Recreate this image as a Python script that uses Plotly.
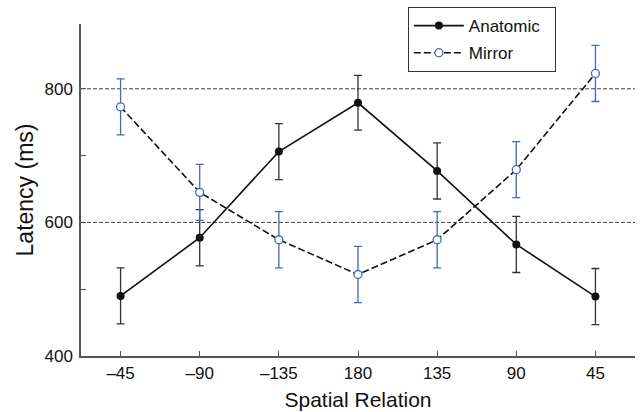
import plotly.graph_objects as go

categories = ["–45", "–90", "–135", "180", "135", "90", "45"]
anatomic = [490, 577, 706, 779, 677, 567, 489]
anatomic_err = [42, 42, 42, 41, 42, 42, 42]
mirror = [773, 645, 574, 522, 574, 679, 823]
mirror_err = [42, 42, 42, 42, 42, 42, 42]
y_ticks = [400, 500, 600, 700, 800]
y_ticktext = ["400", "", "600", "", "800"]
ref_lines = [600, 800]

xpos = list(range(len(categories)))
FONT = "Liberation Sans, Arial, sans-serif"
BLUE = "#4169c0"

fig = go.Figure()

fig.add_trace(go.Scatter(
    x=xpos, y=anatomic, name="Anatomic\u00a0\u00a0", mode="lines+markers",
    legendgroup="a",
    line=dict(color="#111111", width=1.6),
    marker=dict(symbol="circle", size=8, color="#111111"),
    error_y=dict(type="data", array=anatomic_err, color="#333333", thickness=1.3, width=4),
))
fig.add_trace(go.Scatter(
    x=xpos, y=mirror, name="Mirror", mode="lines+markers",
    legendgroup="m",
    line=dict(color="#111111", width=1.6, dash="7px,3px"),
    marker=dict(symbol="circle", size=8, color="white", line=dict(color=BLUE, width=1.3)),
    error_y=dict(type="data", array=mirror_err, color=BLUE, thickness=1.3, width=4),
))

for v in ref_lines:
    fig.add_shape(type="line", xref="paper", x0=0, x1=1, yref="y", y0=v, y1=v,
                  line=dict(color="#444444", width=1, dash="4px,2px"), layer="below")

fig.update_layout(
    width=640, height=412,
    margin=dict(l=81, r=5, t=24, b=56, autoexpand=False),
    paper_bgcolor="white", plot_bgcolor="white",
    font=dict(family=FONT, color="#111111", size=17),
    showlegend=True,
    legend=dict(x=0.59, y=1.051, xanchor="left", yanchor="top",
                bordercolor="#333333", borderwidth=1, bgcolor="white",
                font=dict(size=17), tracegroupgap=2, itemwidth=50),
)
fig.update_xaxes(
    range=[-0.5, 6.5], tickmode="array", tickvals=xpos, ticktext=categories,
    ticks="inside", ticklen=5, tickcolor="#555555",
    showline=True, linecolor="#555555", linewidth=1.5,
    showgrid=False, zeroline=False, automargin=False,
    tickfont=dict(size=17), ticklabelstandoff=1,
    title=dict(text="Spatial Relation", font=dict(size=21), standoff=10),
)
fig.update_yaxes(
    range=[400, 897], tickmode="array", tickvals=y_ticks, ticktext=y_ticktext,
    ticks="inside", ticklen=5, tickcolor="#555555",
    showline=True, linecolor="#555555", linewidth=1.5,
    showgrid=False, zeroline=False, automargin=False,
    tickfont=dict(size=17), ticklabelstandoff=3,
    title=dict(text="Latency (ms)", font=dict(size=23), standoff=4),
)

fig.write_html("out.html", config={"displayModeBar": False},
               post_script="document.body.style.margin='0';")
